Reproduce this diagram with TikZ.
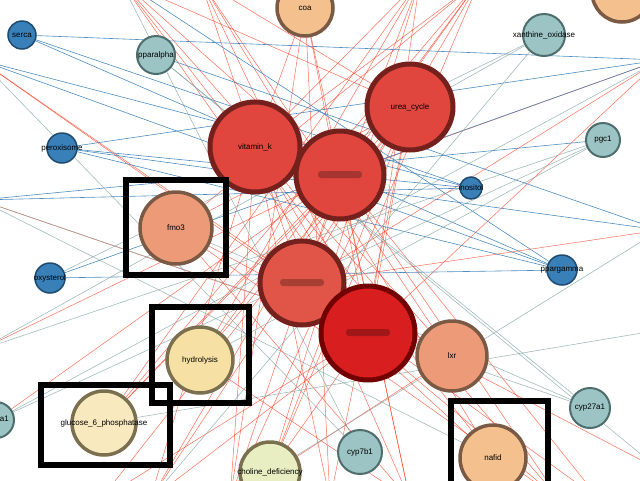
\documentclass[tikz,border=0pt]{standalone}
\usepackage{fontspec}
\setmainfont{Liberation Sans}
\usetikzlibrary{backgrounds}
\definecolor{redA}{HTML}{E0463E}
\definecolor{redB}{HTML}{D81E1E}
\definecolor{redC}{HTML}{E05548}
\definecolor{redR}{HTML}{74201C}
\definecolor{salm}{HTML}{EC9A78}
\definecolor{peach}{HTML}{F4C08E}
\definecolor{yell}{HTML}{F6E0A4}
\definecolor{lime}{HTML}{E8EEC2}
\definecolor{teal}{HTML}{9CC4C4}
\definecolor{tealR}{HTML}{4E6E6E}
\definecolor{blu}{HTML}{3A80B8}
\definecolor{bluR}{HTML}{1E4A70}
\definecolor{brn}{HTML}{7A5A44}
\definecolor{olv}{HTML}{7A7050}
\tikzset{
  ball/.style={circle,inner sep=0pt,line width=3.5pt,font=\fontsize{8}{9}\selectfont},
  lab/.style={label={[font=\fontsize{8}{9}\selectfont]center:#1}},
  redball/.style={ball,fill=redA,draw=redR,line width=5pt},
  salmball/.style={ball,fill=salm,draw=brn},
  peachball/.style={ball,fill=peach,draw=brn},
  yellball/.style={ball,fill=yell,draw=olv},
  tealball/.style={ball,fill=teal,draw=tealR,line width=2pt},
  bluball/.style={ball,fill=blu,draw=bluR,line width=1.5pt},
  redge/.style={draw=red!75!orange,line width=0.5pt,opacity=0.65},
  bedge/.style={draw=blu,line width=0.6pt,opacity=0.9},
  gedge/.style={draw=teal!80!black,line width=0.6pt,opacity=0.7},
  frame/.style={draw=black,line width=6pt}
}
\begin{document}
\begin{tikzpicture}[x=1pt,y=-1pt]
\useasboundingbox (0,0) rectangle (640,480);
\clip (0,0) rectangle (640,480);

% nodes
\node[peachball,minimum size=56pt] (coa) at (305,8) {coa};
\node[peachball,minimum size=60pt] (tr) at (622,-8) {};
\node[bluball,minimum size=28pt,lab=serca] (serca) at (22,35) {};
\node[tealball,minimum size=38pt,lab=pparalpha] (pparalpha) at (156,55) {};
\node[tealball,minimum size=42pt,lab=xanthine\_oxidase] (xanthine) at (544,35) {};
\node[redball,minimum size=86pt] (urea) at (410,107) {urea\_cycle};
\node[redball,minimum size=90pt] (vitk) at (255,147) {vitamin\_k};
\node[redball,minimum size=88pt] (bl1) at (340,175) {};
\node[bluball,minimum size=30pt,lab=peroxisome] (perox) at (62,148) {};
\node[tealball,minimum size=34pt] (pgc) at (603,140) {pgc1};
\node[bluball,minimum size=22pt,lab=inositol] (inos) at (471,188) {};
\node[salmball,minimum size=72pt] (fmo) at (176,228) {fmo3};
\node[bluball,minimum size=30pt,lab=oxysterol] (oxy) at (50,278) {};
\node[bluball,minimum size=30pt,lab=ppargamma] (pparg) at (562,270) {};
\node[redball,minimum size=84pt,fill=redC] (bl2) at (302,283) {};
\node[redball,minimum size=94pt,fill=redB,draw=red!45!black] (bl3) at (368,333) {};
\node[salmball,minimum size=70pt] (lxr) at (452,356) {lxr};
\node[yellball,minimum size=66pt] (hydro) at (200,360) {hydrolysis};
\node[tealball,minimum size=36pt,lab=cyp7a1] (cypa) at (-4,420) {};
\node[yellball,minimum size=64pt,fill=yell!70!white,lab=glucose\_6\_phosphatase] (gluc) at (104,423) {};
\node[tealball,minimum size=40pt,lab=cyp27a1] (cyp27) at (590,408) {};
\node[yellball,minimum size=60pt,fill=lime,lab=choline\_deficiency] (chol) at (270,472) {};
\node[tealball,minimum size=44pt] (cyp7b) at (360,452) {cyp7b1};
\node[peachball,minimum size=66pt] (nafid) at (493,458) {nafid};

% blurred labels
\foreach \n in {bl1,bl2,bl3}
  \fill[black,opacity=0.25,rounded corners=3pt] ([xshift=-22pt,yshift=-3pt]\n.center) rectangle ([xshift=22pt,yshift=4pt]\n.center);

% loose ends
\coordinate (o1) at (120,-20);
\coordinate (o2) at (200,-20);
\coordinate (o3) at (420,-20);
\coordinate (o4) at (480,-20);
\coordinate (o5) at (660,60);
\coordinate (o6) at (660,230);
\coordinate (o7) at (660,330);
\coordinate (o8) at (660,470);
\coordinate (o9) at (150,500);
\coordinate (o10) at (230,500);
\coordinate (o11) at (330,500);
\coordinate (o12) at (410,500);
\coordinate (o13) at (560,500);
\coordinate (o14) at (-20,60);
\coordinate (o15) at (-20,200);
\coordinate (o16) at (-20,350);
\coordinate (o17) at (100,500);
\coordinate (o18) at (600,500);

% edges
\begin{scope}[on background layer]
\foreach \a/\b in {vitk/o9,vitk/o10,vitk/o11,vitk/o12,vitk/o13,vitk/o3,vitk/o4,vitk/coa,
  urea/o9,urea/o10,urea/o11,urea/o17,urea/o1,urea/o2,urea/fmo,urea/hydro,urea/gluc,urea/chol,
  bl1/o9,bl1/o10,bl1/o12,bl1/o13,bl1/o18,bl1/o1,bl1/o4,bl1/o5,bl1/o16,bl1/gluc,bl1/cypa,
  bl2/o2,bl2/o3,bl2/o4,bl2/o5,bl2/o6,bl2/o8,bl2/o13,bl2/o18,bl2/o14,bl2/nafid,bl2/lxr,
  bl3/o1,bl3/o2,bl3/o3,bl3/o14,bl3/o15,bl3/o5,bl3/o9,bl3/o17,bl3/fmo,bl3/vitk,bl3/urea,bl3/coa,bl3/chol,
  fmo/o12,fmo/o13,fmo/o4,hydro/o3,hydro/o4,hydro/o12,lxr/o1,lxr/o2,lxr/o10,nafid/o2,nafid/o1,
  gluc/o4,gluc/o3,chol/o3,chol/o4,coa/o10,coa/o11,coa/o12}
  \draw[redge] (\a) -- (\b);
\foreach \a/\b in {serca/o5,serca/inos,perox/inos,perox/o6,perox/o5,oxy/pparg,oxy/o5,inos/o15,inos/o14,
  pparg/o14,pparg/o1,pgc/o15,pparalpha/o6,serca/pparg,perox/pparg}
  \draw[bedge] (\a) -- (\b);
\foreach \a/\b in {pparalpha/o8,pparalpha/cyp27,xanthine/o16,xanthine/oxy,pgc/o16,pgc/hydro,cyp27/o15,cyp27/fmo,
  cyp7b/o1,cyp7b/o14,cypa/o5,cypa/pgc,gluc/o7,chol/o6,nafid/o15,xanthine/o9}
  \draw[gedge] (\a) -- (\b);
\end{scope}

% boxes
\draw[frame] (126,180) rectangle (226,275);
\draw[frame] (152,307) rectangle (249,403);
\draw[frame] (41,385) rectangle (170,465);
\draw[frame] (451,401) rectangle (548,490);
\end{tikzpicture}
\end{document}
